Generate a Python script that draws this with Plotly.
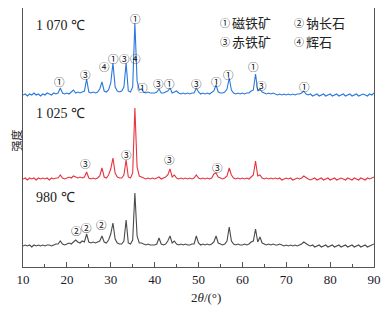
import numpy as np
import plotly.graph_objects as go

# 2theta sampling grid (degrees), 0.5 deg step
two_theta = np.arange(10, 90.25, 0.5)

# Relative intensities, one value per grid point
int_1070 = [
    0, 1, -1, 1, 0, 2, 0, 1, -1, 1, 0, 2, 1, 0, 2, 1, 2, 7, 2, 1,
    2, 1, 3, 5, 2, 3, 2, 3, 4, 16, 3, 2, 3, 2, 3, 6, 13, 4, 3, 5,
    12, 32, 8, 4, 3, 4, 8, 32, 4, 3, 8, 72, 14, 5, 6, 3, 2, 3, 2, 2,
    2, 3, 6, 2, 2, 3, 4, 7, 2, 3, 4, 2, 1, 2, 1, 2, 1, 2, 2, 7,
    3, 1, 2, 1, 2, 1, 3, 4, 10, 3, 2, 2, 3, 6, 17, 5, 2, 1, 2, 1,
    2, 1, 2, 2, 4, 5, 21, 4, 6, 3, 2, 1, 2, 1, 2, 1, 0, 1, 0, 1,
    0, 1, 0, 1, 0, 1, 1, 2, 4, 1, 0, 1, -1, 0, 1, -1, 0, 1, -1, 0,
    1, -1, 0, 1, -1, 0, 1, -1, 0, 1, -1, 0, 1, -1, 0, 1, 0, -1, 1, 0, 2,
]
int_1025 = [
    0, 1, -1, 1, 0, 1, -1, 1, 0, 1, 0, 1, -1, 1, 0, 1, 1, 4, 1, 0,
    1, 2, 1, 3, 2, 1, 2, 1, 2, 7, 1, 0, 1, 0, 1, 3, 11, 2, 1, 4,
    10, 21, 6, 2, 1, 1, 4, 19, 2, 1, 6, 71, 12, 3, 2, 1, 0, 1, 0, 1,
    0, 1, 2, 0, 1, 2, 4, 10, 2, 4, 1, 0, 1, 0, 1, 0, 1, 0, 1, 4,
    1, 0, 1, 0, 1, 0, 1, 5, 6, 2, 1, 0, 1, 3, 11, 4, 1, 0, 1, 0,
    1, 0, 1, 0, 2, 4, 18, 3, 4, 1, 0, 1, 0, 1, 0, 1, 0, 1, -1, 0,
    1, 0, 1, -1, 0, 1, 0, 1, 3, 1, 0, -1, 0, 1, -1, 0, 1, -1, 0, 1,
    -1, 0, 1, -1, 0, 1, 0, -1, 1, 0, -1, 1, 0, -1, 1, 0, -1, 1, 0, 1, 2,
]
int_980 = [
    0, 1, 0, 1, -1, 1, 0, 1, 0, 1, 0, 1, 1, 0, 1, 2, 2, 5, 2, 1,
    2, 3, 2, 4, 6, 4, 3, 5, 4, 12, 4, 3, 4, 3, 4, 5, 10, 4, 3, 6,
    12, 23, 7, 3, 2, 2, 5, 26, 3, 2, 6, 53, 10, 3, 3, 2, 1, 2, 1, 1,
    1, 2, 8, 2, 1, 2, 5, 10, 3, 5, 2, 1, 2, 1, 2, 1, 1, 2, 2, 10,
    3, 1, 2, 1, 2, 1, 2, 4, 10, 3, 2, 1, 2, 5, 19, 5, 2, 1, 2, 1,
    1, 2, 1, 2, 4, 5, 17, 4, 9, 3, 2, 1, 2, 1, 2, 1, 1, 2, 1, 0,
    1, 0, 1, 0, 1, 0, 1, 2, 4, 2, 1, 0, 1, -1, 0, 1, -1, 0, 1, -1,
    0, 1, -1, 0, 1, -1, 0, 1, -1, 0, 1, -1, 0, 1, -1, 0, 1, -1, 0, 1, 2,
]

series_names = ["1 070 ℃", "1 025 ℃", "980 ℃"]
legend_items = [("①", "磁铁矿"), ("②", "钠长石"), ("③", "赤铁矿"), ("④", "辉石")]
x_ticks = [10, 20, 30, 40, 50, 60, 70, 80, 90]

# peak markers: (2theta, label) per pattern
marks_1070 = [(18.4, "①"), (24.3, "③"), (28.6, "④"), (30.6, "①"), (33.1, "③"),
              (35.6, "④"), (35.7, "①"), (37.3, "①"), (40.8, "③"), (43.3, "①"),
              (49.6, "③"), (54.2, "①"), (56.9, "①"), (62.6, "①"), (64.4, "③"),
              (74.2, "①")]
marks_1025 = [(24.3, "③"), (33.5, "③"), (43.3, "③"), (54.4, "③")]
marks_980 = [(22.2, "②"), (24.4, "②"), (27.8, "②")]

# ---- layout helpers (pixels -> data) ----
PLOT_BOTTOM = 267
def ypx(p):
    return PLOT_BOTTOM - p

offsets = [ypx(95), ypx(179), ypx(246)]
colors = ["#2a78dc", "#e5343d", "#4a4a4a"]
series = [int_1070, int_1025, int_980]

fig = go.Figure()
n = len(two_theta)
for s, off, col in zip(series, offsets, colors):
    vals = np.array(s[:n], dtype=float)
    fig.add_trace(go.Scatter(x=two_theta[:len(vals)], y=vals + off, mode="lines",
                             line=dict(color=col, width=1.1), showlegend=False,
                             hoverinfo="skip"))

ann = []
mark_y_1070 = [81, 74, 66, 58, 58, 58, 18, 87, 83, 83, 83, 81, 74, 66, 85, 86]
mark_y_1025 = [163, 154, 159, 167]
mark_y_980 = [230, 227, 224]
for marks, ys in ((marks_1070, mark_y_1070), (marks_1025, mark_y_1025), (marks_980, mark_y_980)):
    for (xv, lab), yp in zip(marks, ys):
        ann.append(dict(x=xv, y=ypx(yp), xref="x", yref="y", text=lab, showarrow=False,
                        font=dict(family="Noto Sans CJK SC", size=10.5, color="#111"),
                        xanchor="center", yanchor="middle"))

for name, yp in zip(series_names, [25, 113, 197]):
    ann.append(dict(x=12.6, y=ypx(yp), xref="x", yref="y", text=name, showarrow=False,
                    font=dict(family="Liberation Serif", size=14, color="#222"),
                    xanchor="left", yanchor="middle"))

leg_pos = [(218, 22), (292, 22), (218, 41), (292, 41)]
for (sym, txt), (px, py) in zip(legend_items, leg_pos):
    xd = 10 + (px - 23) / 4.39
    ann.append(dict(x=xd, y=ypx(py), xref="x", yref="y", text=sym, showarrow=False,
                    font=dict(family="Noto Sans CJK SC", size=10, color="#111"),
                    xanchor="left", yanchor="middle"))
    ann.append(dict(x=xd + 2.8, y=ypx(py), xref="x", yref="y", text=txt, showarrow=False,
                    font=dict(family="Noto Sans CJK SC", size=13, color="#222"),
                    xanchor="left", yanchor="middle"))

ann.append(dict(x=-0.019, y=0.49, xref="paper", yref="paper", text="强度", textangle=-90,
                showarrow=False, borderpad=0,
                font=dict(family="Noto Sans CJK SC", size=11, color="#222"),
                xanchor="center", yanchor="middle"))
ann.append(dict(x=0.52, y=-0.116, xref="paper", yref="paper", text="2<i>θ</i>/(°)",
                showarrow=False, font=dict(family="Liberation Serif", size=13, color="#222"),
                xanchor="center", yanchor="middle"))

# page body has an 8px margin; size the figure to fit the 389x309 window
fig.update_layout(
    width=381, height=301, autosize=False,
    margin=dict(l=15, r=15, t=0, b=42),
    paper_bgcolor="white", plot_bgcolor="white",
    annotations=ann,
    xaxis=dict(range=[10, 90], tickvals=x_ticks, ticktext=[str(v) for v in x_ticks],
               ticks="inside", ticklen=5, tickwidth=1, tickcolor="#555",
               minor=dict(dtick=5, tick0=10, ticks="inside", ticklen=3, tickcolor="#555"),
               showline=True, linecolor="#555", linewidth=1, mirror=True,
               showgrid=False, zeroline=False,
               tickfont=dict(family="Liberation Serif", size=13, color="#1a1a2a")),
    yaxis=dict(range=[0, 259], showticklabels=False, ticks="", showline=True,
               linecolor="#555", linewidth=1, mirror=True, showgrid=False, zeroline=False),
)
fig.write_html("out.html")
